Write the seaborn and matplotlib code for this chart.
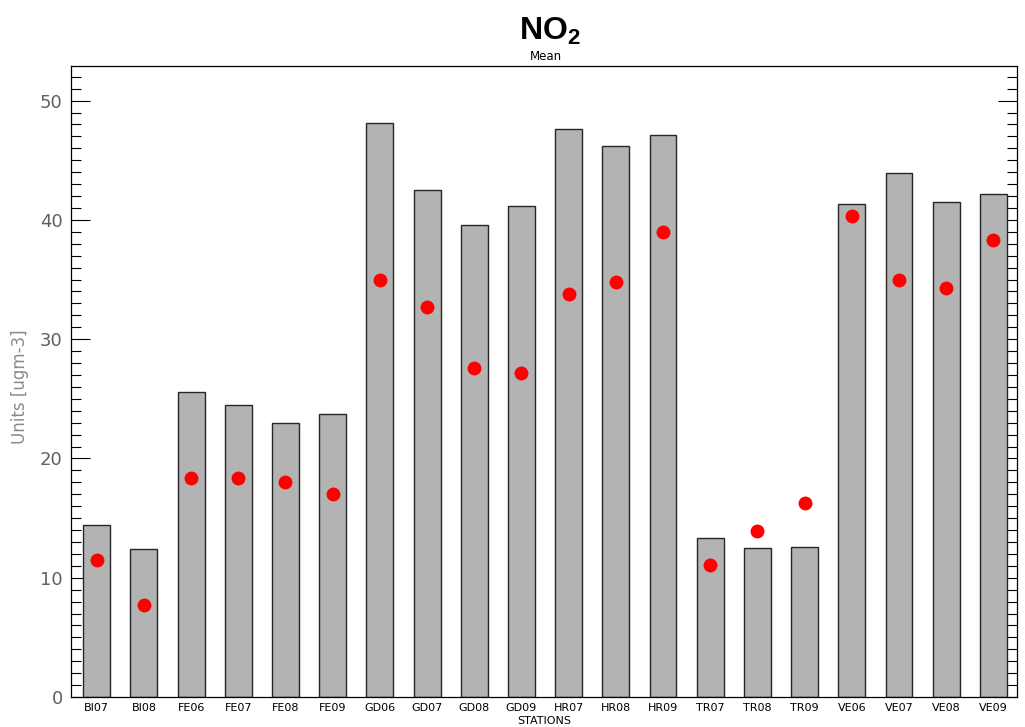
import matplotlib
matplotlib.use("Agg")
import matplotlib.pyplot as plt
from matplotlib.ticker import MultipleLocator
import seaborn as sns
import pandas as pd

# NO2 concentrations per monitoring station
stations = ["BI07", "BI08", "FE06", "FE07", "FE08", "FE09", "GD06", "GD07",
            "GD08", "GD09", "HR07", "HR08", "HR09", "TR07", "TR08", "TR09",
            "VE06", "VE07", "VE08", "VE09"]
observed_mean = [14.4, 12.4, 25.6, 24.5, 23.0, 23.7, 48.1, 42.5, 39.6, 41.2,
                 47.6, 46.2, 47.1, 13.3, 12.5, 12.6, 41.3, 43.9, 41.5, 42.2]
model_mean = [11.5, 7.7, 18.4, 18.4, 18.0, 17.0, 35.0, 32.7, 27.6, 27.2,
              33.8, 34.8, 39.0, 11.1, 13.9, 16.3, 40.3, 35.0, 34.3, 38.3]

df = pd.DataFrame({"station": stations, "obs": observed_mean, "mod": model_mean})

sns.set_style("white")
plt.rcParams["font.family"] = ["DejaVu Sans"]
plt.rcParams["text.color"] = "black"
plt.rcParams["mathtext.fontset"] = "custom"
plt.rcParams["mathtext.rm"] = "Liberation Sans"
plt.rcParams["mathtext.bf"] = "Liberation Sans:bold"

fig = plt.figure(figsize=(10.25, 7.27), dpi=100)
ax = fig.add_axes([71 / 1025, 30 / 727, 946 / 1025, 631 / 727])

sns.barplot(data=df, x="station", y="obs", order=stations, color="#b3b3b3",
            saturation=1, width=0.57, edgecolor="#262626", linewidth=1.0,
            errorbar=None, ax=ax)
sns.stripplot(data=df, x="station", y="mod", order=stations, jitter=False,
              color="#ff0000", size=10, linewidth=0, ax=ax, zorder=5)

ax.set_xlim(-0.545, 19.5)
ax.set_ylim(0, 52.9)

for side in ["left", "right", "top", "bottom"]:
    ax.spines[side].set_visible(True)
    ax.spines[side].set_color("black")
    ax.spines[side].set_linewidth(0.9)

ax.yaxis.set_major_locator(MultipleLocator(10))
ax.yaxis.set_minor_locator(MultipleLocator(1))
ax.tick_params(axis="y", which="major", direction="in", length=14, width=0.8,
               left=True, right=True, labelsize=13, labelcolor="#606060",
               pad=6, color="black")
ax.tick_params(axis="y", which="minor", direction="in", length=7, width=0.8,
               left=True, right=True, color="black")
ax.tick_params(axis="x", which="major", direction="in", length=11, width=0.8,
               bottom=True, top=False, labelsize=8, labelcolor="black",
               pad=4, color="#222222")

ax.set_xlabel("")
ax.set_ylabel("")
fig.text(20 / 1025, 1 - 387 / 727, "Units [ugm-3]", rotation=90, ha="center",
         va="center", fontsize=12, color="#8a8a8a")
fig.text(544 / 1025, 1 - 721 / 727, "STATIONS", ha="center", va="center",
         fontsize=8, color="black")
fig.text(550 / 1025, 1 - 31 / 727, "$\\mathbf{NO_2}$", ha="center", va="center",
         fontsize=23, color="black")
fig.text(546 / 1025, 1 - 56 / 727, "Mean", ha="center", va="center",
         fontsize=8.5, color="black")

fig.savefig("out.png", dpi=100, facecolor="white")
